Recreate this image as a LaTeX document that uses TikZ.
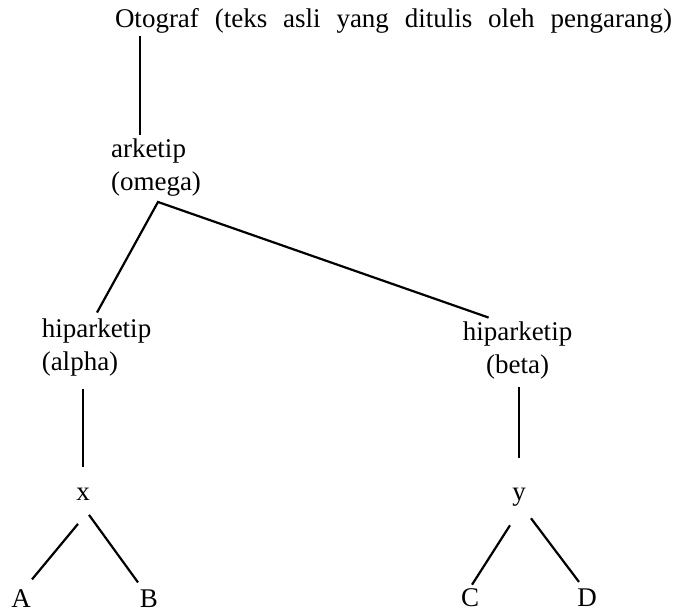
\documentclass[tikz,border=0pt]{standalone}
\usepackage{fontspec}
\setmainfont{Liberation Serif}
\usetikzlibrary{positioning,calc}

\begin{document}
\begin{tikzpicture}[x=1pt,y=1pt,
    label/.style={inner sep=0pt,font=\fontsize{27}{33}\selectfont},
    branch/.style={line width=2.2pt},
    on grid]
    \useasboundingbox (0,0) rectangle (675,612);

    \node[label] (oto) at (393.5,591) {\makebox[557pt][s]{Otograf (teks asli yang ditulis oleh pengarang)}};
    \node[label,align=left,below left=147pt and 237.5pt of oto] (ark) {arketip\\(omega)};
    \node[label,align=left,below left=179.5pt and 59.5pt of ark] (alpha) {hiparketip\\(alpha)};
    \node[label,align=center,below right=182.5pt and 361.5pt of ark] (beta) {hiparketip\\(beta)};
    \node[label,below left=147pt and 13.5pt of alpha] (x) {x};
    \node[label,below right=146.5pt and 1.5pt of beta] (y) {y};
    \node[label,below left=104pt and 62pt of x] (A) {A};
    \node[label,below right=104pt and 66pt of x] (B) {B};
    \node[label,below left=101pt and 49pt of y] (C) {C};
    \node[label,below right=101pt and 68pt of y] (D) {D};

    \draw[branch] ([shift={(29pt,4pt)}]ark.north west) -- ([shift={(29pt,-2pt)}]ark.north west |- oto.south);
    \draw[branch] ([shift={(0.5pt,6pt)}]alpha.north) -- ([shift={(2pt,-5pt)}]ark.south) -- ([shift={(26pt,4pt)}]beta.north west);
    \draw[branch] ([yshift=-13pt]alpha.south -| x.north) -- ([yshift=21pt]x.north);
    \draw[branch] ([yshift=-8pt]beta.south -| y.north) -- ([yshift=30pt]y.north);
    \draw[branch] ([shift={(-5pt,-23pt)}]x.south) -- ([shift={(11pt,10pt)}]A.north);
    \draw[branch] ([shift={(6pt,-14pt)}]x.south) -- ([shift={(-11pt,7pt)}]B.north);
    \draw[branch] ([shift={(-9pt,-19pt)}]y.south) -- ([shift={(2pt,4pt)}]C.north);
    \draw[branch] ([shift={(12pt,-12pt)}]y.south) -- ([shift={(-8pt,7pt)}]D.north);
\end{tikzpicture}
\end{document}
